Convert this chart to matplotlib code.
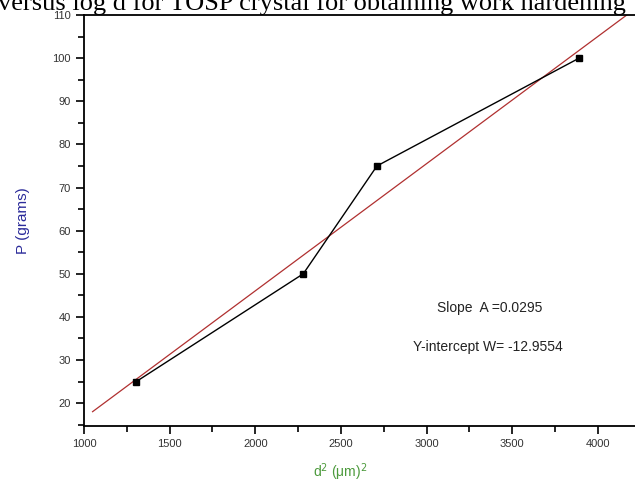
import matplotlib.pyplot as plt
import numpy as np
from matplotlib.ticker import MultipleLocator

# measured points: d^2 (um^2) vs load P (grams)
d_sq = [1305, 2280, 2710, 3890]
load = [25, 50, 75, 100]

# linear fit reported on the chart
slope = 0.0295
intercept = -12.9554
fit_x = [1050, 4250]

plt.rcParams['font.family'] = ['Liberation Sans', 'DejaVu Sans']

W, H = 635, 494
fig = plt.figure(figsize=(W / 100, H / 100), dpi=100)
ax = fig.add_axes([84 / W, 68 / H, 1 - 84 / W, 411 / H])

fx = np.array(fit_x)
ax.plot(fx, slope * fx + intercept, color='#b03030', lw=0.9)
ax.plot(d_sq, load, color='black', lw=1.0, marker='s', markersize=5, zorder=3)

ax.set_xlim(1000, 4216)
ax.set_ylim(14.7, 110)
ax.xaxis.set_major_locator(MultipleLocator(500))
ax.xaxis.set_minor_locator(MultipleLocator(250))
ax.yaxis.set_major_locator(MultipleLocator(10))
ax.yaxis.set_minor_locator(MultipleLocator(5))
ax.spines['right'].set_visible(False)
for s in ['left', 'bottom', 'top']:
    ax.spines[s].set_linewidth(1.3)
ax.tick_params(which='major', direction='out', length=6, width=1.2,
               labelsize=8, labelcolor='#333333', top=False, right=False)
ax.tick_params(which='minor', direction='out', length=4, width=1.2,
               top=False, right=False)
ax.set_yticks([20, 30, 40, 50, 60, 70, 80, 90, 100, 110])

ax.set_ylabel('P (grams)', color='#2b2b9a', fontsize=11, labelpad=16)
ax.set_xlabel('d$^2$ (μm)$^2$', color='#4c9a3c', fontsize=10, labelpad=12)
ax.xaxis.set_label_coords((340 - 84) / (W - 84), -0.085)

ax.text(490, H - 308, 'Slope  A =0.0295', transform=None, fontsize=10,
        ha='center', va='center', color='#222222')
ax.text(488, H - 347, 'Y-intercept W= -12.9554', transform=None, fontsize=10,
        ha='center', va='center', color='#222222')

fig.text(-2 / W, 1.0 - 10 / H, 'versus log d for TOSP crystal for obtaining work hardening',
         family='Liberation Serif', fontsize=19, ha='left', va='baseline')

fig.savefig('out.png', dpi=100)
